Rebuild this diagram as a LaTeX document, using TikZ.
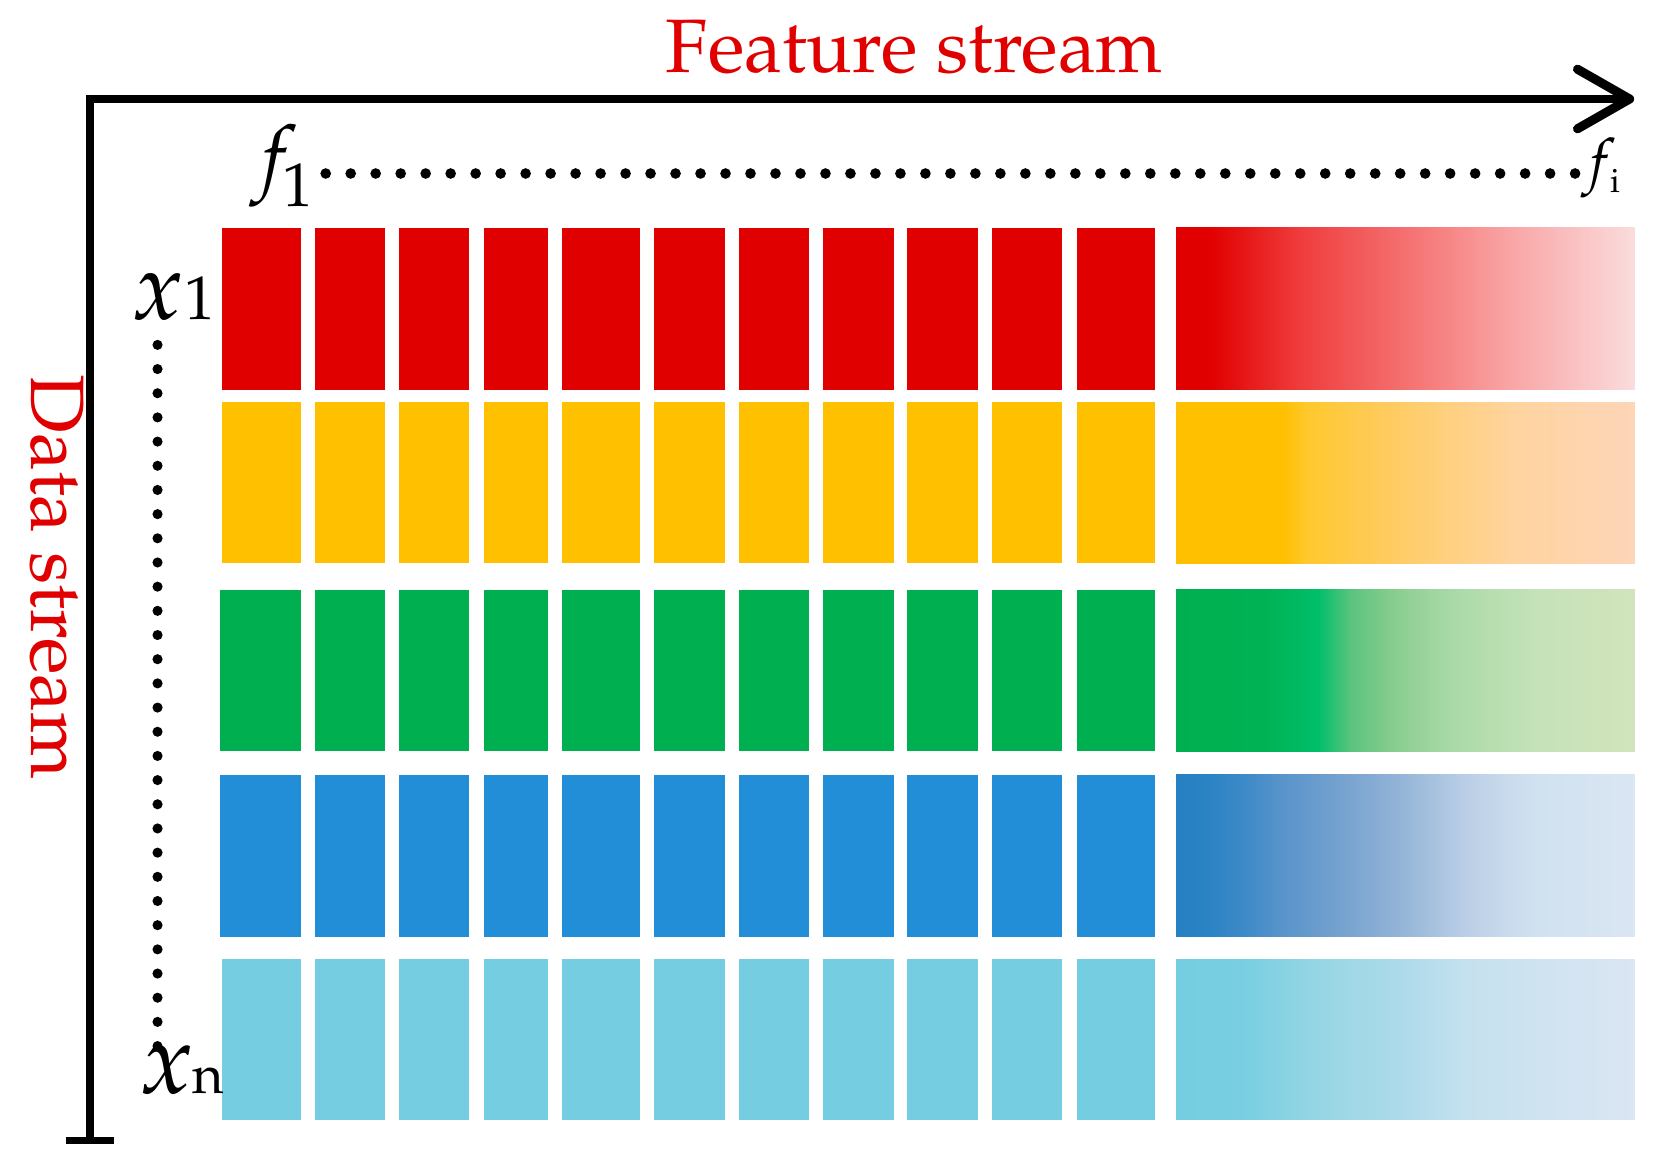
\documentclass[tikz,border=0pt]{standalone}
\usepackage[T1]{fontenc}
\usepackage{mathpazo}
\usetikzlibrary{calc}
% solid colours
\definecolor{cred}{HTML}{E00000}
\definecolor{cyel}{HTML}{FFC000}
\definecolor{cgrn}{HTML}{00B050}
\definecolor{cblu}{HTML}{218ED7}
\definecolor{clbl}{HTML}{74CDE0}
% red gradient stops
\definecolor{r1}{HTML}{EF3C3C}
\definecolor{r2}{HTML}{F57272}
\definecolor{r3}{HTML}{F9A8A8}
\definecolor{r4}{HTML}{FADCDC}
% yellow stops
\definecolor{y1}{HTML}{FFC82E}
\definecolor{y2}{HTML}{FFCB5C}
\definecolor{y3}{HTML}{FFD080}
\definecolor{y4}{HTML}{FFD4A0}
\definecolor{y5}{HTML}{FDD5B8}
% green stops
\definecolor{g1}{HTML}{00B254}
\definecolor{g2}{HTML}{00BE6A}
\definecolor{g3}{HTML}{5DC47F}
\definecolor{g4}{HTML}{85CC8E}
\definecolor{g5}{HTML}{9DD49E}
\definecolor{g6}{HTML}{ADDBAA}
\definecolor{g7}{HTML}{C5E2B8}
\definecolor{g8}{HTML}{D2E4BC}
% blue stops
\definecolor{b0}{HTML}{2680C2}
\definecolor{b1}{HTML}{2882C3}
\definecolor{b2}{HTML}{3E8AC8}
\definecolor{b3}{HTML}{5894CB}
\definecolor{b4}{HTML}{6A9CCD}
\definecolor{b5}{HTML}{7CA6D0}
\definecolor{b6}{HTML}{8FB1D6}
\definecolor{b7}{HTML}{A2BFDC}
\definecolor{b8}{HTML}{B9CDE6}
\definecolor{b9}{HTML}{C6D8EA}
\definecolor{b10}{HTML}{D0E1F0}
\definecolor{b11}{HTML}{DAE6F2}
% light blue stops
\definecolor{l1}{HTML}{7ACFE1}
\definecolor{l2}{HTML}{96D6E4}
\definecolor{l3}{HTML}{ADDAEA}
\definecolor{l4}{HTML}{C5E1EE}
\definecolor{l5}{HTML}{D5E4F2}
\definecolor{l6}{HTML}{DAE6F2}

\pgfdeclarehorizontalshading{gred}{100bp}{color(0bp)=(cred); color(28.6bp)=(cred); color(38.46bp)=(r1); color(50.29bp)=(r2); color(62.12bp)=(r3); color(75bp)=(r4); color(100bp)=(r4)}
\pgfdeclarehorizontalshading{gyel}{100bp}{color(0bp)=(cyel); color(36.6bp)=(cyel); color(39.27bp)=(y1); color(47.62bp)=(y2); color(54.81bp)=(y3); color(62.12bp)=(y4); color(75bp)=(y5); color(100bp)=(y5)}
\pgfdeclarehorizontalshading{ggrn}{100bp}{color(0bp)=(cgrn); color(25bp)=(cgrn); color(34.51bp)=(g1); color(40.43bp)=(g2); color(44.14bp)=(g3); color(48.32bp)=(g4); color(52.26bp)=(g5); color(56.21bp)=(g6); color(64.1bp)=(g7); color(75bp)=(g8); color(100bp)=(g8)}
\pgfdeclarehorizontalshading{gblu}{100bp}{color(0bp)=(b0); color(25bp)=(b0); color(27.9bp)=(b1); color(32.54bp)=(b2); color(36.49bp)=(b3); color(40.43bp)=(b4); color(44.37bp)=(b5); color(48.32bp)=(b6); color(52.26bp)=(b7); color(56.21bp)=(b8); color(60.15bp)=(b9); color(64.1bp)=(b10); color(75bp)=(b11); color(100bp)=(b11)}
\pgfdeclarehorizontalshading{glbl}{100bp}{color(0bp)=(clbl); color(25bp)=(clbl); color(33bp)=(l1); color(40.31bp)=(l2); color(49.36bp)=(l3); color(56.67bp)=(l4); color(69.32bp)=(l5); color(75bp)=(l6); color(100bp)=(l6)}

\tikzset{
  lbl/.style={inner sep=0pt, outer sep=0pt},
  axisline/.style={line width=0.15cm, line join=miter, black},
  chev/.style={line width=0.17cm, line cap=round, line join=round, black},
  tbar/.style={line width=0.14cm, black},
  dotrow/.style={line width=0.2cm, line cap=round, dash pattern=on 0pt off 0.4696cm},
  dotcol/.style={line width=0.19cm, line cap=round, dash pattern=on 0pt off 0.4544cm},
  redtext/.style={lbl, text=cred, font=\fontsize{40.5}{44}\selectfont}
}

\begin{document}
\begin{tikzpicture}[x=0.02cm, y=-0.02cm]
\useasboundingbox (0,0) rectangle (1568,1099);

% bars
\foreach \ta/\tb/\c/\g/\xs in {214/366/cred/gred/209, 378/529/cyel/gyel/209, 554/706/cgrn/ggrn/207, 728/880/cblu/gblu/207, 901/1052/clbl/glbl/209}{
  \fill[\c] (\xs,\ta) rectangle (283,\tb);
  \foreach \xa/\xb in {296/362,375/441,455/515,528/601,614/681,694/760,773/840,852/919,932/998,1012/1085}{
    \fill[\c] (\xa,\ta) rectangle (\xb,\tb);
  }
  \shade[shading=\g] (1105,\ta) rectangle (1536,\tb);
}

% titles
\node[redtext, anchor=base] (title) at (859,68) {Feature stream};
\node[redtext, rotate=-90, anchor=base] (dtitle) at (30,542) {Data stream};

% axes
\coordinate (ybot) at (85,1071);
\coordinate (org) at (85,93);
\coordinate (tip) at (1531,93);
\draw[axisline] (ybot) -- (org) -- (tip);
\draw[chev] (1482,65) -- (tip) -- (1482,121);
\coordinate (tbl) at (62,1071.5);
\coordinate (tbr) at (107,1071.5);
\draw[tbar] (tbl) -- (tbr);

% labels
\node[lbl, anchor=base west] (f1) at (236,194) {\fontsize{44}{48}\selectfont\raisebox{12pt}{$f$}\kern-8pt\fontsize{33}{40}\selectfont 1};
\node[lbl, anchor=base west] (fi) at (1486,181) {\fontsize{32}{36}\selectfont\raisebox{6pt}{$f$}\kern-3pt\fontsize{18}{20}\selectfont i};
\node[lbl, anchor=base west] (x1) at (124,300) {\fontsize{51}{54}\selectfont$x$\fontsize{33}{40}\selectfont 1};
\node[lbl, anchor=base west] (xn) at (131,1027) {\fontsize{53}{56}\selectfont$x$\kern-1pt\fontsize{29}{34}\selectfont n};

% dotted guides
\coordinate (hd1) at (306,163);
\coordinate (hd2) at (1480,163);
\draw[dotrow] (hd1) -- (hd2);
\coordinate (vd1) at (148,324);
\coordinate (vd2) at (148,983);
\draw[dotcol] (vd1) -- (vd2);
\end{tikzpicture}
\end{document}
